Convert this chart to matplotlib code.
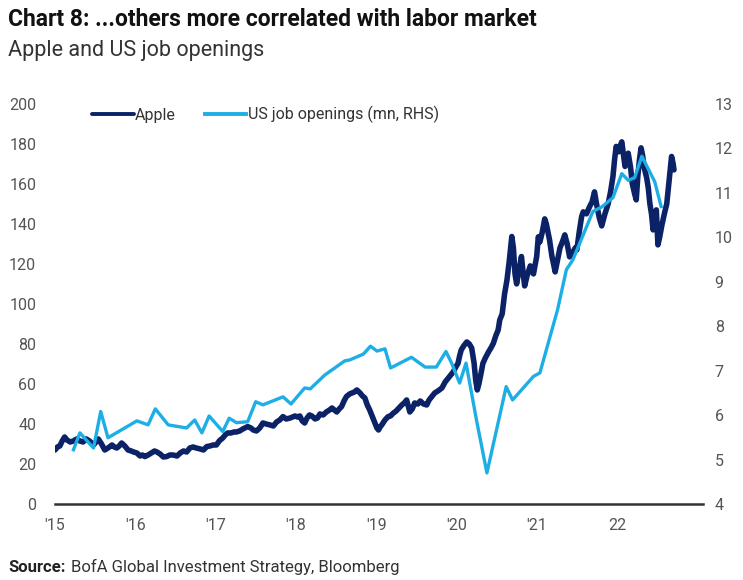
import matplotlib
matplotlib.use("Agg")
import matplotlib.pyplot as plt

# ---------------- data ----------------
apple_dates = [
    2015.00, 2015.03, 2015.06, 2015.09, 2015.12, 2015.15, 2015.19, 2015.23, 2015.27, 2015.31,
    2015.35, 2015.39, 2015.43, 2015.48, 2015.51, 2015.54, 2015.58, 2015.62, 2015.66, 2015.71,
    2015.74, 2015.77, 2015.80, 2015.83, 2015.87, 2015.91, 2015.95, 2015.98, 2016.02, 2016.06,
    2016.09, 2016.12, 2016.16, 2016.20, 2016.24, 2016.27, 2016.31, 2016.35, 2016.39, 2016.43,
    2016.47, 2016.52, 2016.56, 2016.60, 2016.64, 2016.68, 2016.72, 2016.76, 2016.81, 2016.85,
    2016.89, 2016.93, 2016.97, 2017.01, 2017.05, 2017.09, 2017.12, 2017.15, 2017.19, 2017.23,
    2017.26, 2017.30, 2017.34, 2017.40, 2017.44, 2017.47, 2017.51, 2017.55, 2017.59, 2017.63,
    2017.68, 2017.72, 2017.76, 2017.80, 2017.84, 2017.88, 2017.93, 2017.99, 2018.02, 2018.05,
    2018.08, 2018.11, 2018.14, 2018.17, 2018.20, 2018.24, 2018.27, 2018.30, 2018.34, 2018.38,
    2018.42, 2018.45, 2018.48, 2018.51, 2018.54, 2018.57, 2018.60, 2018.63, 2018.67, 2018.70,
    2018.73, 2018.76, 2018.80, 2018.83, 2018.86, 2018.89, 2018.92, 2018.95, 2018.98, 2019.01,
    2019.03, 2019.05, 2019.07, 2019.11, 2019.15, 2019.18, 2019.21, 2019.25, 2019.28, 2019.32,
    2019.35, 2019.38, 2019.40, 2019.42, 2019.45, 2019.48, 2019.52, 2019.55, 2019.59, 2019.63,
    2019.66, 2019.70, 2019.73, 2019.77, 2019.82, 2019.86, 2019.90, 2019.93, 2019.96, 2020.00,
    2020.02, 2020.04, 2020.06, 2020.09, 2020.13, 2020.16, 2020.19, 2020.21, 2020.22, 2020.24,
    2020.26, 2020.28, 2020.29, 2020.31, 2020.33, 2020.36, 2020.40, 2020.43, 2020.46, 2020.49,
    2020.52, 2020.54, 2020.57, 2020.60, 2020.63, 2020.66, 2020.69, 2020.71, 2020.73, 2020.75,
    2020.78, 2020.81, 2020.83, 2020.85, 2020.88, 2020.92, 2020.94, 2020.96, 2021.00, 2021.02,
    2021.04, 2021.07, 2021.10, 2021.12, 2021.14, 2021.16, 2021.19, 2021.21, 2021.23, 2021.26,
    2021.29, 2021.32, 2021.35, 2021.38, 2021.41, 2021.44, 2021.48, 2021.50, 2021.53, 2021.56,
    2021.58, 2021.62, 2021.66, 2021.69, 2021.72, 2021.75, 2021.78, 2021.81, 2021.85, 2021.89,
    2021.92, 2021.95, 2021.97, 2021.99, 2022.02, 2022.04, 2022.06, 2022.08, 2022.10, 2022.12,
    2022.14, 2022.17, 2022.19, 2022.22, 2022.24, 2022.26, 2022.28, 2022.30, 2022.32, 2022.34,
    2022.37, 2022.39, 2022.41, 2022.43, 2022.45, 2022.47, 2022.49, 2022.51, 2022.53, 2022.56,
    2022.59, 2022.62, 2022.65, 2022.68, 2022.70, 2022.71,
]
apple_values = [
    27, 28.5, 29, 31.5, 33.5, 32, 31, 31.5, 32.5, 31.5,
    31, 32.5, 31.5, 29.5, 31, 32.5, 30, 27, 28, 29.5,
    28.5, 28, 29, 30.5, 29, 27, 26.5, 26, 25.5, 24,
    24.5, 23.7, 24.5, 25.5, 26.5, 26, 25, 23.5, 23.7, 24.5,
    24.5, 24, 25.5, 26.5, 26, 28, 28.5, 28, 27.5, 27,
    28.7, 29, 29.5, 29.5, 31.7, 33, 34.5, 35.5, 35.5, 36,
    36, 36.5, 37.5, 38.7, 38, 37, 36.5, 38, 40.5, 40,
    39.5, 39, 41, 42, 43.7, 42.5, 43, 44, 43.5, 44,
    41.5, 40.5, 43, 44.5, 44, 42.5, 43, 45, 44.5, 46,
    47, 48, 47, 46, 47.5, 48.7, 51.5, 53.7, 55, 55.5,
    56, 57, 55.5, 54, 53, 49.5, 47, 44, 41, 38,
    37, 38.5, 39.5, 42, 43.7, 44, 45.3, 46.5, 47.8, 49.5,
    50.5, 52, 49, 46, 47.5, 50.5, 50, 51.5, 50, 49.5,
    52, 54, 55.5, 56.5, 58, 61, 63, 64.5, 66, 69,
    70.3, 74, 77, 79, 81, 80, 78, 73, 70.5, 62,
    57, 60, 62, 66, 70.3, 73, 76, 78, 80.3, 84,
    87, 92, 95, 105, 112, 122, 133.7, 128, 115, 110,
    117, 123.7, 116, 109, 114, 119, 117, 115, 123.7, 133.5,
    131, 136, 142.5, 140, 136, 132, 123.7, 120, 116, 122,
    128, 131, 134.5, 130, 123.5, 125, 128, 127, 136, 143.7,
    146, 145, 148.7, 151, 156, 149, 143, 139, 145, 150,
    156, 163.7, 172, 178.7, 176, 179, 181, 175, 168.7, 171,
    175.3, 168, 160.3, 155, 152, 164, 172, 178, 174, 168,
    163, 158, 150, 145, 137, 142, 147, 129.5, 133, 139.5,
    145, 150, 162, 173.7, 170, 167,
]

jobs_dates = [
    2015.23, 2015.31, 2015.48, 2015.57, 2015.66, 2016.02, 2016.16, 2016.25, 2016.41, 2016.64,
    2016.74, 2016.83, 2016.92, 2017.09, 2017.17, 2017.26, 2017.40, 2017.50, 2017.59, 2017.84,
    2017.94, 2018.11, 2018.18, 2018.36, 2018.61, 2018.67, 2018.84, 2018.93, 2019.01, 2019.11,
    2019.18, 2019.44, 2019.61, 2019.75, 2019.87, 2019.94, 2020.04, 2020.12, 2020.25, 2020.38,
    2020.62, 2020.70, 2020.96, 2021.04, 2021.26, 2021.37, 2021.45, 2021.70, 2021.81, 2021.95,
    2022.06, 2022.14, 2022.22, 2022.31, 2022.47, 2022.55,
]
jobs_values = [
    5.22, 5.60, 5.26, 6.08, 5.49, 5.87, 5.78, 6.14, 5.78, 5.71,
    5.89, 5.60, 5.98, 5.63, 5.93, 5.83, 5.85, 6.30, 6.23, 6.41,
    6.25, 6.61, 6.59, 6.90, 7.22, 7.24, 7.37, 7.55, 7.44, 7.49,
    7.06, 7.30, 7.08, 7.08, 7.43, 7.17, 6.72, 7.17, 5.89, 4.70,
    6.64, 6.34, 6.87, 6.95, 8.37, 9.27, 9.49, 10.58, 10.68, 10.89,
    11.43, 11.28, 11.34, 11.82, 11.25, 10.69,
]

year_ticks = [2015, 2016, 2017, 2018, 2019, 2020, 2021, 2022]
year_labels = ["'15", "'16", "'17", "'18", "'19", "'20", "'21", "22"]
left_ticks = [0, 20, 40, 60, 80, 100, 120, 140, 160, 180, 200]
right_ticks = [4, 5, 6, 7, 8, 9, 10, 11, 12, 13]

title = "Chart 8: ...others more correlated with labor market"
subtitle = "Apple and US job openings"
source_head = "Source:"
source_body = "BofA Global Investment Strategy, Bloomberg"

# ---------------- style ----------------
plt.rcParams["font.family"] = ["Roboto", "DejaVu Sans"]

NAVY = "#0b2266"
SKY = "#1eaee6"
GREY = "#555555"

fig = plt.figure(figsize=(7.43, 5.80), dpi=100)
ax = fig.add_axes([0.074, 0.131, 0.872, 0.690])
ax2 = ax.twinx()

l1, = ax.plot(apple_dates, apple_values, color=NAVY, lw=4.0, solid_joinstyle="round",
              solid_capstyle="round", label="Apple")
l2, = ax2.plot(jobs_dates, jobs_values, color=SKY, lw=2.4, solid_joinstyle="round",
               label="US job openings (mn, RHS)")

ax.set_xlim(2015.0, 2023.07)
ax.set_ylim(0, 200)
ax2.set_ylim(4, 13)
ax.set_yticks(left_ticks)
ax2.set_yticks(right_ticks)
ax.set_xticks(year_ticks)
ax.set_xticklabels(year_labels)

for a in (ax, ax2):
    for s in a.spines.values():
        s.set_visible(False)
    a.tick_params(length=0, labelsize=11.5, colors=GREY)
ax.spines["bottom"].set_visible(True)
ax.spines["bottom"].set_color("#333333")
ax.spines["bottom"].set_linewidth(1.8)
ax.tick_params(axis="y", pad=13.5)
ax2.tick_params(axis="y", pad=8.5)
ax.tick_params(axis="x", pad=10)

leg = ax.legend(handles=[l1, l2], loc="upper left", bbox_to_anchor=(0.035, 1.03),
                ncol=2, frameon=False, fontsize=11.5, handlelength=2.6,
                handletextpad=0.1, columnspacing=1.8, labelcolor="#333333")
for ln in leg.get_lines():
    ln.set_linewidth(2.8)

fig.text(0.011, 0.967, title, fontsize=16.5, fontweight="bold", color="#111111", va="center")
fig.text(0.011, 0.913, subtitle, fontsize=15.5, color="#333333", va="center")
t = fig.text(0.011, 0.022, source_head, fontsize=12, fontweight="bold", color="#222222",
             va="center")
fig.canvas.draw()
bb = t.get_window_extent()
x2 = bb.x1 / fig.bbox.width + 0.008
fig.text(x2, 0.022, source_body, fontsize=12, color="#333333", va="center")

fig.savefig("out.png", dpi=100)
